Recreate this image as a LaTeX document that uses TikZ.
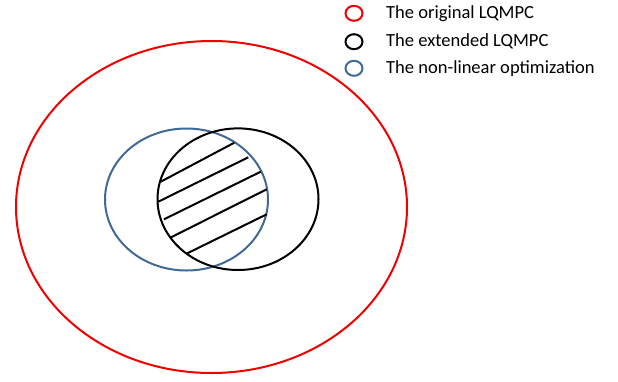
\documentclass[tikz,border=0pt]{standalone}
\usepackage{fontspec}
\usetikzlibrary{shapes.geometric}
\setmainfont{Carlito}
\definecolor{setred}{RGB}{240,0,0}
\definecolor{setblue}{RGB}{65,105,150}
\begin{document}
\begin{tikzpicture}[x=1bp,y=-1bp,
  setline/.style={line width=2bp},
  hatch/.style={line width=2bp, black},
  legmark/.style={draw, line width=2bp, ellipse, minimum width=17bp, minimum height=15bp, inner sep=0pt},
  legtext/.style={anchor=west, font=\fontsize{18.6}{22}\selectfont, inner sep=0pt}]
\useasboundingbox (0,0) rectangle (618,381);
% sets
\draw[setline, setred] (211.5,207) ellipse [x radius=195.5, y radius=166];
\draw[setline, setblue] (186.5,199.5) ellipse [x radius=81.5, y radius=71];
\draw[setline, black] (238,199.2) ellipse [x radius=80.5, y radius=70.8];
% hatching
\coordinate (h1a) at (160.7,181.7); \coordinate (h1b) at (234.3,142.7);
\coordinate (h2a) at (158.3,201.7); \coordinate (h2b) at (248.3,157.3);
\coordinate (h3a) at (164,219.3);   \coordinate (h3b) at (260.7,171.7);
\coordinate (h4a) at (171,237.3);   \coordinate (h4b) at (266.7,189.3);
\coordinate (h5a) at (187.3,253.3); \coordinate (h5b) at (266.7,214.3);
\draw[hatch] (h1a) -- (h1b);
\draw[hatch] (h2a) -- (h2b);
\draw[hatch] (h3a) -- (h3b);
\draw[hatch] (h4a) -- (h4b);
\draw[hatch] (h5a) -- (h5b);
% legend
\node[legmark, setred] (m1) at (354,13.3) {};
\node[legmark, black] (m2) at (354,41.7) {};
\node[legmark, setblue] (m3) at (354,68.3) {};
\node[legtext] (t1) at (386,13.3) {The original LQMPC};
\node[legtext] (t2) at (386,41.7) {The extended LQMPC};
\node[legtext] (t3) at (386,68.3) {The non-linear optimization};
\end{tikzpicture}
\end{document}
